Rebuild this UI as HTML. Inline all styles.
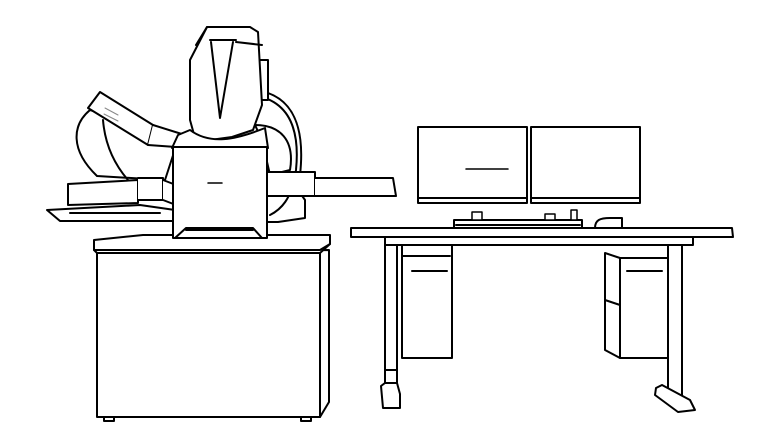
<!DOCTYPE html>
<html><head><meta charset="utf-8"><style>html,body{margin:0;padding:0;background:#fff}svg{display:block}</style></head>
<body>
<svg width="780" height="448" viewBox="0 0 780 448" xmlns="http://www.w3.org/2000/svg" fill="#fff" stroke="#000" stroke-width="2" stroke-linejoin="round" stroke-linecap="round">
<!-- left machine base -->
<path d="M104 417 h10 v4 h-10z M301 417 h10 v4 h-10z"/>
<path d="M97 253 V417 H320 L329 402 V250 Z"/>
<path d="M320 253 V417"/>
<path d="M94 240 L143 235 H330 V244 L320 253 H97 L94 250 Z"/>
<path d="M94 250 H320 L330 244"/>
<!-- back arc stuff -->
<path d="M252 95 C290 100 300 130 296 170 C292 200 280 210 270 215" fill="none"/>
<path d="M255 90 C295 95 305 130 300 175" fill="none"/>
<path d="M253 60 h15 v40 h-15z"/>
<!-- left hood -->
<path d="M90 110 C72 125 70 150 97 176 L165 180 L178 140 L150 128 Z"/>
<path d="M103 120 C105 145 115 165 128 180" fill="none"/>
<path d="M100 92 L88 108 L148 145 L153 125 Z"/>
<path d="M153 125 L185 135 L196 140 L190 148 L148 145"/>
<path d="M105 108 L118 115 M104 114 L118 121" stroke-width="1" stroke="#888"/>
<!-- right lobe -->
<path d="M255 125 C280 125 295 140 290 170 L270 175 L262 140 Z"/>
<!-- left tray -->
<path d="M68 184 L138 180 L138 203 L68 205 Z"/>
<path d="M138 178 H163 V200 H138"/>
<path d="M47 210 L140 205 L175 210 L175 221 L60 221 Z"/>
<path d="M70 213 H160" fill="none"/>
<path d="M163 180 L176 185 V205 L163 200"/>
<!-- column -->
<path d="M207 27 H250 L258 32 L262 105 L253 130 L232 137 L210 140 L195 138 L190 120 V60 Z"/>
<path d="M210 40 H236 M196 45 L207 27 M211 42 L220 118 L233 42 M236 42 L262 45"/>
<path d="M190 130 C210 145 235 140 265 128 L268 148 H172 L178 135 Z"/>
<!-- chamber -->
<path d="M173 147 H267 V238 H173 Z"/>
<path d="M208 183 H222" stroke-width="1.5"/>
<path d="M175 238 L186 228 H253 L262 238" fill="none"/>
<path d="M186 230 H253" fill="none"/>
<path d="M267 190 H298 L305 200 V218 L278 222 H267" fill="none"/>
<!-- right arm -->
<path d="M267 172 H315 V196 H267 Z"/>
<path d="M315 178 H393 L396 196 H315"/>
<!-- desk -->
<path d="M351 228 H732 L733 237 H351 Z"/>
<path d="M385 237 H693 V245 H385 Z"/>
<path d="M385 245 H397 V383 H385 Z"/>
<path d="M385 370 H397"/>
<path d="M381 386 L385 383 H397 L400 394 V408 H383 Z"/>
<path d="M668 245 H682 V400 H668 Z"/>
<path d="M656 388 L662 385 L690 400 L695 410 L678 412 L655 395 Z"/>
<!-- cabinets -->
<path d="M402 245 H452 V358 H402 Z"/>
<path d="M402 256 H450 M412 271 H447"/>
<path d="M605 253 L620 258 H668 V358 H620 L605 350 Z"/>
<path d="M620 258 V358 M605 300 L620 305 M627 271 H662"/>
<!-- keyboard / mouse -->
<path d="M454 220 H582 V228 H454 Z"/>
<path d="M456 225 H580" fill="none"/>
<path d="M595 228 C595 220 600 218 610 218 H622 V228 Z"/>
<path d="M472 212 h10 v8 h-10z M545 214 h10 v6 h-10z M571 210 h6 v10 h-6z" stroke-width="1.5"/>
<!-- monitors -->
<path d="M418 127 H527 V203 H418 Z"/>
<path d="M419 198 H526"/>
<path d="M466 169 H508" stroke-width="1.5"/>
<path d="M531 127 H640 V203 H531 Z"/>
<path d="M532 198 H639"/>
</svg>
</body></html>
